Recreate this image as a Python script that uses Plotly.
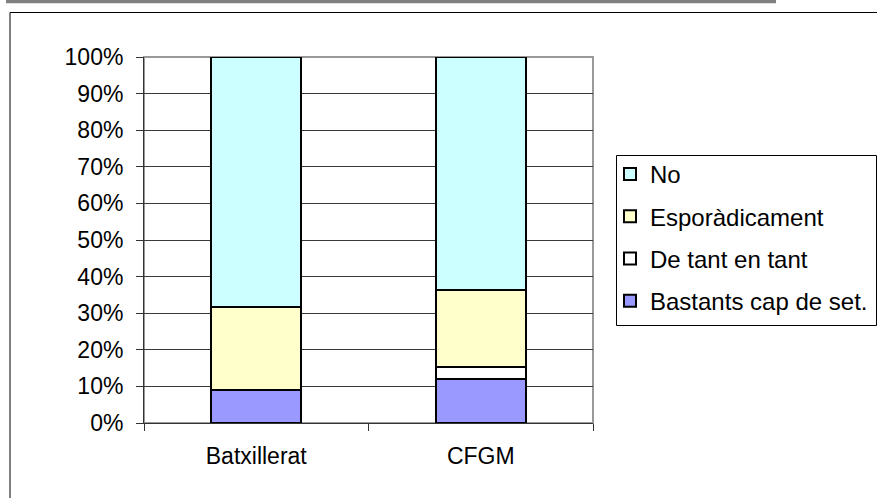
import plotly.graph_objects as go

categories = ["Batxillerat", "CFGM"]
series_names = ["Bastants cap de set.", "De tant en tant", "Esporàdicament", "No"]
bastants = [9.1, 12.1]
de_tant = [0.0, 3.1]
esporadicament = [22.5, 21.2]
no_vals = [68.4, 63.6]
series_values = [bastants, de_tant, esporadicament, no_vals]
series_colors = ["#9999FF", "#FFFFFF", "#FFFFCC", "#CCFFFF"]
legend_ranks = [4, 3, 2, 1]
y_ticks = list(range(0, 101, 10))
y_labels = [f"{v}%" for v in y_ticks]

W, H = 877, 498
L, R, T, B = 144, 593, 57, 423
FONT = "Liberation Sans, Arial, sans-serif"


def px(x):
    return (x - L) / (R - L)


def py(y):
    return (B - y) / (B - T)


fig = go.Figure()
for name, vals, col, rank in zip(series_names, series_values, series_colors, legend_ranks):
    fig.add_trace(go.Bar(
        x=categories, y=vals, name=name, legendgroup=name, legendrank=rank,
        marker=dict(color=col, line=dict(color="#000000", width=2)),
    ))

shapes = [
    # header grey bar
    dict(type="rect", xref="paper", yref="paper", x0=px(6), x1=px(776), y0=py(0), y1=py(3.3),
         fillcolor="#808080", line=dict(width=0), layer="above"),
    # chart border (left and top)
    dict(type="line", xref="paper", yref="paper", x0=px(10), x1=px(10), y0=py(12.5), y1=py(510),
         line=dict(color="#000000", width=1)),
    dict(type="line", xref="paper", yref="paper", x0=px(10), x1=px(890), y0=py(12.5), y1=py(12.5),
         line=dict(color="#000000", width=1)),
    # plot-area frame
    dict(type="rect", xref="paper", yref="paper", x0=0, x1=1, y0=0, y1=1,
         line=dict(color="#999999", width=2), layer="below"),
    # legend box
    dict(type="rect", xref="paper", yref="paper", x0=px(616.5), x1=px(876.5), y0=py(155.5), y1=py(325.5),
         line=dict(color="#000000", width=1), fillcolor="#FFFFFF", layer="below"),
]

fig.update_layout(
    width=W, height=H,
    margin=dict(l=L, r=W - R, t=T, b=H - B, autoexpand=False),
    paper_bgcolor="#FFFFFF", plot_bgcolor="#FFFFFF",
    barmode="stack", bargap=0.6,
    font=dict(family=FONT, size=23, color="#000000"),
    showlegend=True,
    legend=dict(
        x=px(610), y=py(152), xanchor="left", yanchor="top",
        traceorder="grouped", tracegroupgap=8,
        borderwidth=0, bgcolor="rgba(0,0,0,0)",
        font=dict(family=FONT, size=24, color="#000000"),
        itemwidth=30,
    ),
    shapes=shapes,
    xaxis=dict(
        type="category", showgrid=False, showline=True, linecolor="#333333", linewidth=1,
        ticks="outside", tickson="boundaries", ticklen=7, tickcolor="#333333",
        ticklabelstandoff=12,
        tickfont=dict(family=FONT, size=23, color="#000000"), zeroline=False,
    ),
    yaxis=dict(
        range=[0, 100], tickvals=y_ticks, ticktext=y_labels,
        showgrid=True, gridcolor="#3a3a3a", gridwidth=1,
        showline=True, linecolor="#333333", linewidth=1,
        ticks="outside", ticklen=7, tickcolor="#333333",
        ticklabelstandoff=8,
        tickfont=dict(family=FONT, size=23, color="#000000"), zeroline=False,
    ),
)

fig.write_html(
    "out.html",
    config={"displayModeBar": False, "staticPlot": True},
    post_script="document.body.style.margin='0';document.body.style.overflow='hidden';",
)
